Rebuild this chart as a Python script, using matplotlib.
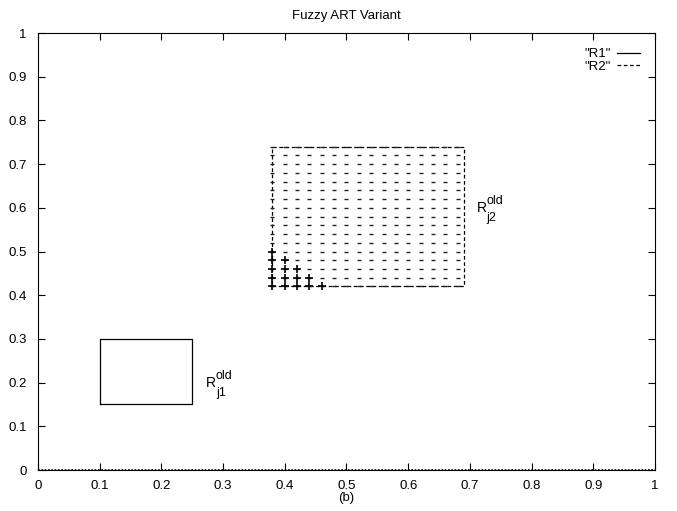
import numpy as np
import matplotlib
matplotlib.use("Agg")
import matplotlib.pyplot as plt

plt.rcParams['font.family'] = ['Liberation Sans', 'DejaVu Sans']

# rectangles (closed outlines)
r1_x = [0.10, 0.25, 0.25, 0.10, 0.10]
r1_y = [0.15, 0.15, 0.30, 0.30, 0.15]
r2_x = [0.38, 0.69, 0.69, 0.38, 0.38]
r2_y = [0.42, 0.42, 0.74, 0.74, 0.42]

# sample grid inside R2
grid_x = [0.38, 0.40, 0.42, 0.44, 0.46, 0.48, 0.50, 0.52, 0.54, 0.56,
          0.58, 0.60, 0.62, 0.64, 0.66, 0.68]
grid_y = [0.42, 0.44, 0.46, 0.48, 0.50, 0.52, 0.54, 0.56, 0.58, 0.60,
          0.62, 0.64, 0.66, 0.68, 0.70, 0.72, 0.74]

# "+" points in the lower-left corner of R2
plus_x = [0.38, 0.40, 0.42, 0.44, 0.46,
          0.38, 0.40, 0.42, 0.44,
          0.38, 0.40, 0.42,
          0.38, 0.40,
          0.38]
plus_y = [0.42, 0.42, 0.42, 0.42, 0.42,
          0.44, 0.44, 0.44, 0.44,
          0.46, 0.46, 0.46,
          0.48, 0.48,
          0.50]

# R2 also runs along the x axis
base_x = [0.0, 1.0]
base_y = [0.0, 0.0]

# labels next to the rectangles: (x, y, subscript)
lab_x = [0.272, 0.711]
lab_y = [0.191, 0.591]
lab_sub = ['j1', 'j2']

dash = (0, (3, 2))
fs = 9.5

fig = plt.figure(figsize=(6.77, 5.11), dpi=100)
ax = fig.add_axes([0.0561, 0.0802, 0.9114, 0.8552])

ax.plot(r1_x, r1_y, color='black', lw=0.9, label='"R1"')
ax.plot(r2_x, r2_y, color='black', lw=0.9, linestyle=dash, label='"R2"')
ax.plot(base_x, base_y, color='black', lw=1.2, linestyle=(0, (1, 1)), clip_on=False)

gx, gy = np.meshgrid(grid_x, grid_y)
ax.plot(gx.ravel(), gy.ravel(), linestyle='none', marker='_', markersize=3.0,
        mew=1.0, color='#222222')
ax.plot(plus_x, plus_y, linestyle='none', marker='+', markersize=6,
        mew=1.2, color='black')

# gnuplot-style enhanced text: R with separate super/subscripts
for x, y, sub in zip(lab_x, lab_y, lab_sub):
    ax.text(x, y, 'R', fontsize=10, ha='left', va='baseline')
    ax.annotate('old', (x, y), xytext=(6.8, 5.6), textcoords='offset points',
                fontsize=9, ha='left', va='baseline')
    ax.annotate(sub, (x, y), xytext=(7.2, -6.5), textcoords='offset points',
                fontsize=9, ha='left', va='baseline')

ax.set_xlim(0, 1)
ax.set_ylim(0, 1)
ax.set_xticks([0, 0.1, 0.2, 0.3, 0.4, 0.5, 0.6, 0.7, 0.8, 0.9, 1])
ax.set_xticklabels(['0', '0.1', '0.2', '0.3', '0.4', '0.5', '0.6', '0.7', '0.8', '0.9', '1'])
ax.set_yticks([0, 0.1, 0.2, 0.3, 0.4, 0.5, 0.6, 0.7, 0.8, 0.9, 1])
ax.set_yticklabels(['0', '0.1', '0.2', '0.3', '0.4', '0.5', '0.6', '0.7', '0.8', '0.9', '1'])
ax.tick_params(direction='in', length=5, width=0.8, top=True, right=True,
               labelsize=fs)
ax.tick_params(axis='x', pad=7.5)
ax.tick_params(axis='y', pad=8)
for s in ax.spines.values():
    s.set_linewidth(0.8)

ax.set_title('Fuzzy ART Variant', fontsize=fs, pad=10)
ax.set_xlabel('(b)', fontsize=fs, labelpad=-0.5)

ax.legend(loc='upper right', frameon=False, fontsize=fs, markerfirst=False,
          handlelength=1.75, handletextpad=0.45, labelspacing=0.0,
          borderaxespad=0.75)

fig.savefig('out.png', dpi=100)
